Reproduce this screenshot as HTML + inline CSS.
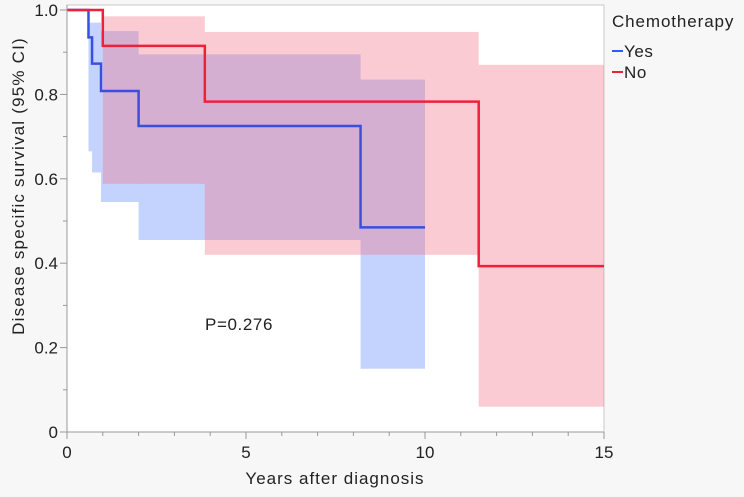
<!DOCTYPE html>
<html><head><meta charset="utf-8"><style>
body{margin:0;background:#f7f7f7;font-family:"Liberation Sans","DejaVu Sans",sans-serif;}
svg text{font-family:"Liberation Sans","DejaVu Sans",sans-serif;fill:#222;}
</style></head><body>
<svg id="c" width="744" height="492">
<rect x="67" y="5" width="537" height="427" fill="#fff" stroke="#c8c8c8"/>
<g id="bands"></g><g id="lines"></g><g id="axes"></g>
<text x="205" y="330" font-size="17" letter-spacing="0.6">P=0.276</text>
<text x="335" y="484" font-size="17" letter-spacing="1" text-anchor="middle">Years after diagnosis</text>
<text transform="translate(24,186) rotate(-90)" font-size="17" letter-spacing="1.2" text-anchor="middle">Disease specific survival (95% CI)</text>
<text x="612" y="27" font-size="17" letter-spacing="0.9">Chemotherapy</text>
<g><line x1="612" y1="51" x2="623" y2="51" stroke="#2a5cff" stroke-width="2"/><text x="624" y="57" font-size="17" letter-spacing="0.6">Yes</text></g>
<g><line x1="612" y1="72" x2="623" y2="72" stroke="#f0203a" stroke-width="2"/><text x="624" y="78" font-size="17" letter-spacing="0.6">No</text></g>
</svg>
<script>
const yesTimes=[0,0.6,0.7,0.95,2.0,8.2,10];
const yesSurv=[1,0.935,0.873,0.808,0.725,0.485,0.485];
const yesUpper=[1,0.97,0.97,0.95,0.895,0.835,0.835];
const yesLower=[1,0.665,0.615,0.545,0.455,0.15,0.15];
const noTimes=[0,1.0,3.85,11.5,15];
const noSurv=[1,0.915,0.783,0.393,0.393];
const noUpper=[1,0.985,0.948,0.87,0.87];
const noLower=[1,0.588,0.42,0.06,0.06];
const xTicks=[0,5,10,15];
const yTicks=[0,0.2,0.4,0.6,0.8,1.0];
const X=t=>67+t*537/15, Y=v=>432-v*422;
const NS="http://www.w3.org/2000/svg";
function mk(tag,attrs,parent){const e=document.createElementNS(NS,tag);for(const k in attrs)e.setAttribute(k,attrs[k]);parent.appendChild(e);return e;}
const bands=document.getElementById('bands'),lines=document.getElementById('lines'),axes=document.getElementById('axes');
function drawBand(T,U,L,color,name){for(let i=1;i<T.length-1;i++){const r=mk('rect',{x:X(T[i]),y:Y(U[i]),width:X(T[i+1])-X(T[i]),height:Y(L[i])-Y(U[i]),fill:color},bands);

}}
drawBand(yesTimes,yesUpper,yesLower,'rgba(100,140,250,0.38)','ci-band-yes');
drawBand(noTimes,noUpper,noLower,'rgba(242,110,130,0.36)','ci-band-no');
function step(T,S,color,name){let d='M'+X(T[0])+','+Y(S[0]);for(let i=1;i<T.length;i++){d+=' H'+X(T[i])+' V'+Y(S[i]);}
const p=mk('path',{d:d,fill:'none',stroke:color,'stroke-width':2.5},lines);

}
step(yesTimes,yesSurv,'#3a4fe0','survival-line-yes');
step(noTimes,noSurv,'#f0203a','survival-line-no');
mk('line',{x1:67,y1:5,x2:67,y2:432,stroke:'#999'},axes);
mk('line',{x1:67,y1:432,x2:604,y2:432,stroke:'#999'},axes);
for(let i=0;i<=15;i++)mk('line',{x1:X(i),y1:432,x2:X(i),y2:i%5?436:439,stroke:'#999'},axes);
for(let i=0;i<=10;i++)mk('line',{x1:67,y1:Y(i/10),x2:i%2?63:60,y2:Y(i/10),stroke:'#999'},axes);
xTicks.forEach(t=>{const e=mk('text',{x:X(t),y:458,'font-size':17,'text-anchor':'middle'},axes);e.textContent=t;

});
yTicks.forEach(v=>{const e=mk('text',{x:58,y:Y(v)+6,'font-size':17,'text-anchor':'end'},axes);e.textContent=v===0?'0':v.toFixed(1);

});
</script>
</body></html>
